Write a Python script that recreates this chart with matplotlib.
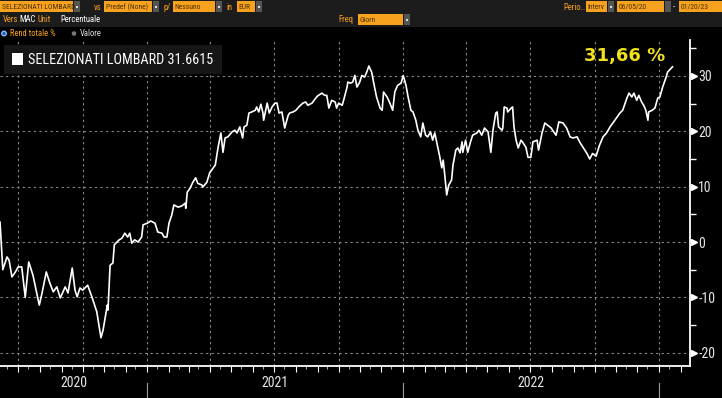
import matplotlib
matplotlib.use('Agg')
import matplotlib.pyplot as plt
import matplotlib.dates as mdates
import matplotlib.font_manager as fm
from matplotlib.patches import Rectangle, Circle
import pandas as pd

start_date = '2020-06-05'
day_offsets = [
    0, 4, 10, 13, 17, 21, 26, 31, 36, 41, 47, 56, 60, 66, 71, 76, 81, 86, 93, 97,
    103, 107, 110, 114, 118, 125, 131, 138, 144, 147, 153, 154, 157, 161, 163, 167, 170, 174, 178, 182,
    185, 188, 192, 197, 202, 204, 210, 215, 221, 225, 231, 234, 238, 241, 245, 248, 254, 259, 264, 265,
    267, 271, 275, 279, 282, 288, 289, 295, 299, 307, 311, 315, 318, 321, 325, 331, 335, 338, 342, 346,
    348, 352, 355, 359, 364, 366, 369, 372, 375, 376, 381, 384, 388, 392, 395, 398, 402, 406, 411, 413,
    418, 422, 426, 432, 436, 439, 445, 449, 453, 459, 463, 466, 469, 473, 478, 480, 483, 488, 490, 495,
    496, 500, 503, 506, 509, 513, 516, 520, 523, 526, 529, 530, 533, 537, 542, 545, 547, 552, 556, 560,
    563, 567, 572, 575, 579, 582, 586, 589, 593, 596, 600, 603, 607, 610, 614, 617, 620, 623, 627, 630,
    632, 634, 637, 640, 644, 646, 650, 653, 656, 659, 660, 664, 667, 671, 674, 680, 683, 687, 691, 696,
    700, 703, 707, 709, 711, 716, 717, 719, 723, 724, 729, 731, 733, 736, 739, 743, 746, 750, 753, 757,
    760, 766, 768, 773, 777, 781, 786, 788, 793, 797, 803, 808, 813, 817, 823, 827, 831, 837, 841, 845,
    850, 855, 860, 865, 870, 874, 880, 884, 888, 894, 897, 901, 904, 908, 911, 915, 918, 921, 924, 925,
    930, 934, 938, 941, 945, 950, 952, 959,
]
returns = [
    3.6, -5.0, -2.7, -3.3, -6.3, -5.6, -4.5, -4.5, -10.0, -3.6, -6.0, -11.4, -9.2, -5.4, -7.4, -9.0, -8.1, -10.1, -8.1, -9.2,
    -4.7, -8.7, -9.9, -8.3, -8.7, -7.8, -9.9, -12.6, -17.3, -15.9, -11.4, -12.3, -4.2, -3.8, -0.5, 0.0, 0.4, 0.7, 1.6, 0.9,
    1.6, -0.2, 0.4, 0.0, 0.9, 3.1, 3.4, 3.8, 3.4, 1.8, 1.6, 0.9, 0.9, 3.4, 4.9, 6.7, 6.3, 6.5, 7.0, 6.1,
    9.0, 9.7, 10.8, 11.6, 10.6, 10.3, 9.9, 10.8, 12.5, 13.9, 17.1, 19.7, 16.2, 18.8, 19.0, 19.9, 20.2, 19.7, 20.8, 18.8,
    20.8, 21.1, 23.3, 23.5, 23.8, 24.4, 23.5, 24.9, 23.3, 22.0, 25.1, 23.3, 24.4, 25.1, 25.1, 23.3, 23.5, 20.6, 22.9, 23.3,
    23.5, 23.8, 24.4, 25.1, 25.3, 24.7, 25.1, 25.8, 26.4, 26.9, 26.5, 26.5, 24.2, 25.6, 25.3, 24.2, 25.1, 24.7, 25.6, 28.0,
    28.9, 28.7, 28.9, 30.1, 28.0, 28.9, 30.1, 29.8, 30.7, 31.8, 31.0, 30.7, 28.7, 26.2, 24.2, 23.8, 27.1, 26.2, 25.1, 23.8,
    27.1, 28.3, 28.7, 30.1, 28.3, 26.2, 23.8, 23.5, 22.0, 20.2, 19.0, 21.5, 19.3, 19.0, 19.9, 18.4, 19.7, 17.9, 15.5, 13.4,
    14.8, 12.5, 8.5, 10.3, 11.2, 13.9, 16.6, 17.0, 16.1, 18.1, 16.2, 18.4, 16.2, 18.1, 19.3, 19.7, 20.2, 19.3, 20.6, 19.9,
    16.2, 20.2, 23.3, 23.5, 20.8, 20.2, 20.6, 24.4, 24.2, 23.5, 24.2, 24.4, 20.8, 18.4, 17.0, 18.4, 17.9, 17.1, 15.3, 15.3,
    18.1, 18.4, 16.6, 19.7, 21.5, 21.1, 20.6, 20.2, 19.3, 21.7, 21.5, 20.6, 19.0, 18.8, 19.0, 18.0, 17.2, 16.0, 15.0, 16.0,
    15.5, 17.5, 19.0, 19.7, 20.8, 21.5, 22.6, 23.3, 23.8, 26.0, 26.9, 26.2, 26.9, 25.6, 26.5, 25.3, 24.7, 23.8, 22.0, 23.5,
    23.8, 24.2, 26.0, 26.2, 28.0, 29.8, 30.7, 31.6615,
]
y_ticks = [-20, -10, 0, 10, 20, 30]
y_minor = [-15, -5, 5, 15, 25, 35]
year_labels = ['2020', '2021', '2022']
series_name = 'SELEZIONATI LOMBARD'
last_value = 31.6615

plt.rcParams['axes.unicode_minus'] = False
available = {f.name for f in fm.fontManager.ttflist}
narrow = 'Roboto'
for cand in ['DejaVu Sans Condensed', 'Liberation Sans Narrow', 'Roboto Condensed']:
    if cand in available:
        narrow = cand
        break

W, H = 722, 398
ORANGE = '#f7a21f'
fig = plt.figure(figsize=(W / 100, H / 100), dpi=100, facecolor='black')

# main chart area
ax = fig.add_axes([0, 32 / H, 690 / W, 326 / H])
ax.set_facecolor('black')
dates = pd.Timestamp(start_date) + pd.to_timedelta(day_offsets, unit='D')
x0 = pd.Timestamp(start_date)
x1 = x0 + pd.Timedelta(days=984)

# dashed grid
for q in pd.date_range('2020-07-01', '2023-01-01', freq='QS'):
    ax.axvline(q, color='#8a8a8a', lw=0.8, ls=(0, (2, 3)), zorder=1)
for yv in y_ticks:
    ax.axhline(yv, color='#8a8a8a', lw=0.8, ls=(0, (2, 3)), zorder=1)

ax.plot(dates, returns, color='white', lw=1.2, zorder=3)
ax.set_xlim(x0, x1)
ax.set_ylim(-22.4, 36.5)

for s in ['top', 'left']:
    ax.spines[s].set_visible(False)
for s in ['bottom', 'right']:
    ax.spines[s].set_color('white')
    ax.spines[s].set_linewidth(1.3)

ax.xaxis.set_major_locator(mdates.MonthLocator())
ax.xaxis.set_minor_locator(mdates.MonthLocator(bymonthday=15))
ax.tick_params(axis='x', which='major', length=4, color='white', labelbottom=False)
ax.tick_params(axis='x', which='minor', length=2, color='#cccccc')

ax.yaxis.tick_right()
ax.set_yticks(y_ticks)
ax.set_yticklabels([str(v) for v in y_ticks], family=narrow)
ax.set_yticks(y_minor, minor=True)
ax.tick_params(axis='y', which='major', length=0, pad=6, labelsize=10, labelcolor='#e6e6e6')
ax.tick_params(axis='y', which='minor', length=4, color='white', width=1)
ax.plot([1.006] * len(y_ticks), y_ticks, transform=ax.get_yaxis_transform(),
        marker='>', ms=5, color='white', ls='none', clip_on=False)

# year row under the axis
trans = ax.get_xaxis_transform()
for i, yl in enumerate(year_labels):
    a = max(x0, pd.Timestamp(f'{yl}-01-01'))
    b = pd.Timestamp(f'{int(yl) + 1}-01-01')
    ax.text(a + (b - a) / 2, -0.052, yl, transform=trans, ha='center', va='center',
            color='#e6e6e6', fontsize=10, family=narrow)
    ax.plot([b, b], [-0.052, -0.1], transform=trans, color='#9a9a9a', lw=0.8, clip_on=False)

# overlay in pixel coordinates for header and legend
ov = fig.add_axes([0, 0, 1, 1], zorder=10)
ov.set_xlim(0, W)
ov.set_ylim(H, 0)
ov.axis('off')
ov.patch.set_alpha(0)

ov.add_patch(Rectangle((0, 0), W, 27, fc='#1c1c1c', ec='none'))

def field(xa, xb, y, label, button=True):
    ov.add_patch(Rectangle((xa, y), xb - xa, 11, fc=ORANGE, ec='none'))
    ov.text(xa + 1.5, y + 5.8, label, color='#4a2e00', fontsize=5.5, va='center', family=narrow)
    if button:
        ov.add_patch(Rectangle((xb + 1, y), 6, 11, fc='#555555', ec='none'))
        ov.add_patch(Rectangle((xb + 3, y + 4.5), 2, 2, fc='#dddddd', ec='none'))

def label(x, y, s, color=ORANGE):
    ov.text(x, y, s, color=color, fontsize=6.2, va='center', family=narrow)

field(0, 73, 1, 'SELEZIONATI LOMBARD')
label(94, 7, 'vs')
field(104, 152, 1, 'Predef (None)')
label(163, 7, 'p/')
field(173, 215, 1, 'Nessuno')
label(226, 7, 'in')
field(237, 255, 1, 'EUR')
label(563, 7, 'Perio..')
field(586, 607, 1, 'Interv')
field(617, 664, 1, '06/05/20', button=False)
ov.add_patch(Rectangle((665, 1), 6, 11, fc='#555555', ec='none'))
label(673, 7, '-', color='#dddddd')
field(679, 722, 1, '01/20/23', button=False)

label(3, 20, 'Vers')
label(19, 20, 'MAC', color='white')
label(38, 20, 'Unit')
label(60, 20, 'Percentuale', color='white')
label(338, 20, 'Freq')
field(358, 403, 14, 'Giorn')

ov.add_patch(Circle((4, 33.5), 2.3, fc='#1e5fb0', ec='#7fb4ff', lw=1))
label(10, 33.5, 'Rend totale %')
ov.add_patch(Circle((74, 33.5), 2.3, fc='#777777', ec='none'))
label(80, 33.5, 'Valore', color='#dddddd')

# legend box
ov.add_patch(Rectangle((4, 45), 218, 29, fc='#161616', ec='none'))
ov.add_patch(Rectangle((12, 53), 11, 12, fc='white', ec='none'))
ov.text(28, 59.5, f'{series_name} {last_value:.4f}', color='white', fontsize=10.2,
        va='center', family=narrow)

ov.text(665, 56, f'{last_value:.2f}'.replace('.', ',') + ' %', ha='right', va='center',
        fontsize=13, weight='bold', color='#f2e21c')

fig.savefig('out.png', dpi=100, facecolor='black')
